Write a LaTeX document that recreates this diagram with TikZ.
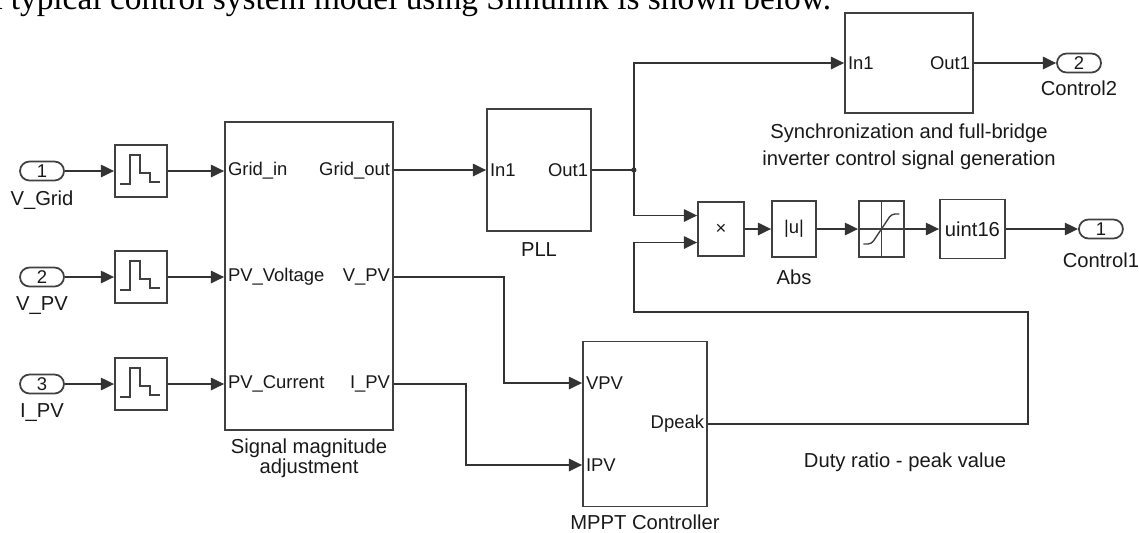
\documentclass[tikz,border=0pt]{standalone}
\usepackage{fontspec}
\setmainfont{Liberation Sans}
\newfontfamily\bookfont{Liberation Serif}
\usetikzlibrary{arrows.meta, shapes, positioning}

\begin{document}
\begin{tikzpicture}[x=0.02cm, y=-0.02cm,
	font=\fontsize{10.5}{12}\selectfont, text=black!90,
	blk/.style={draw=black!75, line width=1pt, rectangle, fill=white, inner sep=0pt},
	pill/.style={blk, rounded corners=0.19cm, minimum width=0.88cm, minimum height=0.38cm},
	zoh/.style={blk, minimum width=1.04cm, minimum height=1.04cm,
		path picture={\draw[line width=0.9pt, shift={(path picture bounding box.center)}]
			(-21,13) -- (-11,13) -- (-11,-16) -- (-1,-16) -- (-1,2) -- (9,2) -- (9,11) -- (19,11);}},
	satur/.style={blk, minimum width=0.9cm, minimum height=1.12cm,
		path picture={\draw[line width=0.6pt, shift={(path picture bounding box.center)}]
			(0,-30) -- (0,30) (-25,0) -- (25,0);
			\draw[line width=0.8pt, rounded corners=2pt, shift={(path picture bounding box.center)}]
			(-18,15) -- (-10,15) -- (10,-15) -- (18,-15);}},
	port/.style={inner sep=2pt},
	blkname/.style={align=center, font=\fontsize{11.5}{11.5}\selectfont},
	wire/.style={draw=black!80, line width=1pt},
	link/.style={wire, -{Triangle[length=7.5pt, width=7pt]}}]

	\useasboundingbox (0,0) rectangle (1139,532);
	\clip (0,0) rectangle (1139,532);

	% text above %
	\node[anchor=base west, inner sep=0pt, text=black, font=\bookfont\fontsize{19}{22}\selectfont] (intro) at (-22,9) {A typical control system model using Simulink is shown below.};

	% inports %
	\node[pill] (vgrid) at (42,171) {1};
	\node[pill] (vpv) at (42,277) {2};
	\node[pill] (ipv) at (42,384) {3};
	\node[blkname, below of = vgrid, node distance=0.58cm] (vgridname) {V\_Grid};
	\node[blkname, below of = vpv, node distance=0.58cm] (vpvname) {V\_PV};
	\node[blkname, below of = ipv, node distance=0.58cm] (ipvname) {I\_PV};

	% hold blocks %
	\node[zoh, right of = vgrid, node distance=1.98cm] (zoh1) {};
	\node[zoh, right of = vpv, node distance=1.98cm] (zoh2) {};
	\node[zoh, right of = ipv, node distance=1.98cm] (zoh3) {};

	% signal magnitude adjustment %
	\node[blk, minimum width=3.36cm, minimum height=6.16cm] (adj) at (309,276) {};
	\node[blkname, below of = adj, node distance=3.64cm] (adjname) {Signal magnitude\\adjustment};
	\node[port, anchor=west] (adjin1) at (adj.west |- zoh1) {Grid\_in};
	\node[port, anchor=west] (adjin2) at (adj.west |- zoh2) {PV\_Voltage};
	\node[port, anchor=west] (adjin3) at (adj.west |- zoh3) {PV\_Current};
	\node[port, anchor=east] (adjout1) at (adj.east |- zoh1) {Grid\_out};
	\node[port, anchor=east] (adjout2) at (adj.east |- zoh2) {V\_PV};
	\node[port, anchor=east] (adjout3) at (adj.east |- zoh3) {I\_PV};

	% PLL %
	\node[blk, minimum width=2.08cm, minimum height=2.44cm] (pll) at (539,170) {};
	\node[blkname, below of = pll, node distance=1.6cm] (pllname) {PLL};
	\node[port, anchor=west] (pllin) at (pll.west) {In1};
	\node[port, anchor=east] (pllout) at (pll.east) {Out1};
	\coordinate (split) at ([xshift=0.84cm]pll.east);

	% synchronization block %
	\node[blk, minimum width=2.56cm, minimum height=2cm] (sync) at (909,63) {};
	\node[blkname, below of = sync, node distance=1.67cm] (syncname) {Synchronization and full-bridge\\[4pt]inverter control signal generation};
	\node[port, anchor=west] (syncin) at (sync.west) {In1};
	\node[port, anchor=east] (syncout) at (sync.east) {Out1};
	\node[pill] (ctrl2) at (1079,63) {2};
	\node[blkname, below of = ctrl2, node distance=0.5cm] (ctrl2name) {Control2};

	% output chain %
	\node[blk, minimum width=0.92cm, minimum height=1.08cm] (mult) at (721,229) {×};
	\node[blk, right of = mult, node distance=1.46cm, minimum width=0.88cm, minimum height=1.12cm] (abs) {|u|};
	\node[blkname, below of = abs, node distance=0.96cm] (absname) {Abs};
	\node[satur, right of = abs, node distance=1.75cm] (sat) {};
	\node[blk, right of = sat, node distance=1.82cm, minimum width=1.3cm, minimum height=1.18cm, font=\fontsize{11.5}{12}\selectfont] (conv) {uint16};
	\node[pill, right of = conv, node distance=2.57cm] (ctrl1) {1};
	\node[blkname, below of = ctrl1, node distance=0.62cm] (ctrl1name) {Control1};

	% MPPT %
	\node[blk, minimum width=2.48cm, minimum height=3.3cm] (mppt) at (645,424) {};
	\node[blkname, below of = mppt, node distance=1.96cm] (mpptname) {MPPT Controller};
	\coordinate (vpvport) at ([yshift=0.82cm]mppt.west);
	\coordinate (ipvport) at ([yshift=-0.82cm]mppt.west);
	\node[port, anchor=west] (mpptin1) at (vpvport) {VPV};
	\node[port, anchor=west] (mpptin2) at (ipvport) {IPV};
	\node[port, anchor=east] (mpptout) at (mppt.east) {Dpeak};
	\node[blkname] (dutyname) at (905,462) {Duty ratio - peak value};
	\coordinate (fbright) at (1028,312);
	\coordinate (fbleft) at (split |- fbright);

	% edges %
	\draw[link] (vgrid) -- (zoh1);
	\draw[link] (vpv) -- (zoh2);
	\draw[link] (ipv) -- (zoh3);
	\draw[link] (zoh1) -- (zoh1 -| adj.west);
	\draw[link] (zoh2) -- (zoh2 -| adj.west);
	\draw[link] (zoh3) -- (zoh3 -| adj.west);
	\draw[link] (adj.east |- pll) -- (pll.west);
	\draw[wire] (pll.east) -- (split);
	\fill[black!80] (split) circle (1.5pt);
	\draw[link] (split) |- (sync.west);
	\draw[link] (split) |- ([yshift=0.27cm]mult.west);
	\draw[link] (sync.east) -- (ctrl2);
	\draw[link] (mult) -- (abs);
	\draw[link] (abs) -- (sat);
	\draw[link] (sat) -- (conv);
	\draw[link] (conv) -- (ctrl1);
	\draw[link] (adj.east |- zoh2) -- ++(2.2cm,0) |- (vpvport);
	\draw[link] (adj.east |- zoh3) -- ++(1.44cm,0) |- (ipvport);
	\draw[link] (mppt.east) -| (fbright) -- (fbleft) |- ([yshift=-0.27cm]mult.west);
\end{tikzpicture}
\end{document}
